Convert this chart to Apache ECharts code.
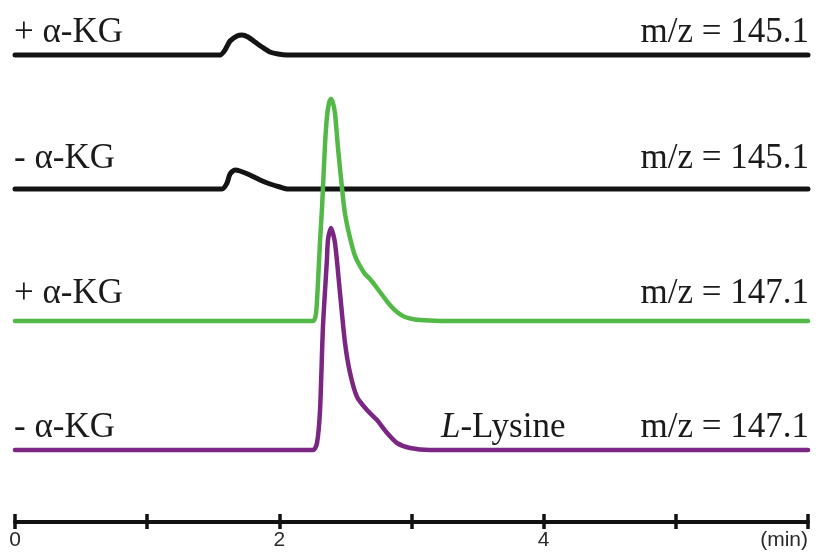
<!DOCTYPE html>
<html>
<head>
<meta charset="utf-8">
<script src="https://cdn.jsdelivr.net/npm/echarts@6/dist/echarts.min.js"></script>
<style>html,body{margin:0;padding:0;background:#fff}#c{width:818px;height:556px}</style>
</head>
<body>
<div id="c"></div>
<script>
// Time axis (min)
var xTicks = [0, 1, 2, 3, 4, 5, 6];
var xLabels = {0: '0', 2: '2', 4: '4', 6: '(min)'};

// Trace labels
var leftLabels = ['+ α-KG', '- α-KG', '+ α-KG', '- α-KG'];
var rightLabels = ['m/z = 145.1', 'm/z = 145.1', 'm/z = 147.1', 'm/z = 147.1'];

// Signal traces: [time (min), intensity above own baseline]
var blackPlus145 = [[0,0],[1.551,0],[1.589,5],[1.627,14],[1.680,19],[1.717,20],[1.763,18],[1.816,13],[1.869,8],[1.929,3],[1.990,1],[2.058,0],[6,0]];
var blackMinus145 = [[0,0],[1.566,0],[1.604,6],[1.627,15],[1.665,19],[1.702,18],[1.778,14],[1.854,9],[1.929,5],[2.005,2],[2.066,0],[6,0]];
var greenPlus147 = [[0,0],[2.255,0],[2.277,7],[2.293,40],[2.308,80],[2.323,113],[2.345,175],[2.361,205],[2.376,218],[2.391,222],[2.406,218],[2.421,208],[2.444,173],[2.474,133],[2.497,107],[2.535,83],[2.573,65],[2.61,55],[2.648,47],[2.686,42],[2.739,33],[2.784,25],[2.837,16],[2.89,9],[2.951,4],[3.026,1.5],[3.14,0.5],[3.29,0],[6,0]];
var purpleMinus147 = [[0,0],[2.255,0],[2.285,7],[2.308,40],[2.33,123],[2.36,190],[2.368,210],[2.391,222],[2.421,207],[2.459,157],[2.497,107],[2.535,77],[2.588,53],[2.663,40],[2.739,30],[2.815,17],[2.89,7],[2.989,2],[3.14,0],[6,0]];

// Vertical stacking offsets of each trace
var baselines = [467, 333, 201, 72];

var traces = [blackPlus145, blackMinus145, greenPlus147, purpleMinus147];
var colors = ['#141414', '#141414', '#52b947', '#7a2682'];
var widths = [5, 5, 4.5, 4.5];

function shift(arr, off) { return arr.map(function (p) { return [p[0], p[1] + off]; }); }

var chart = echarts.init(document.getElementById('c'));
var textY = [33, 159, 294, 428];
var FONT = '35px "Liberation Serif"';
var graphics = [];
for (var i = 0; i < 4; i++) {
  graphics.push({type: 'text', left: 14, top: textY[i] - 18, style: {text: leftLabels[i], font: FONT, fill: '#1a1a1a'}});
  graphics.push({type: 'text', right: 9, top: textY[i] - 18, style: {text: rightLabels[i], font: FONT, fill: '#1a1a1a'}});
}
graphics.push({type: 'text', left: 441, top: textY[3] - 18, style: {
  text: '{i|L}-Lysine', font: FONT, fill: '#1a1a1a',
  rich: {i: {fontStyle: 'italic', fontFamily: 'Liberation Serif', fontSize: 35, fill: '#1a1a1a'}}
}});

var axisCommon = {type: 'value', min: 0, max: 6, interval: 1, splitLine: {show: false}};
chart.setOption({
  animation: false,
  grid: [
    {left: 15, right: 10, top: 0, bottom: 34},
    {left: 15, right: 10, top: 0, bottom: 34}
  ],
  xAxis: [
    Object.assign({}, axisCommon, {
      gridIndex: 0,
      axisLine: {lineStyle: {color: '#111', width: 4}},
      axisTick: {show: true, inside: true, length: 8, lineStyle: {color: '#111', width: 3.5}},
      axisLabel: {
        formatter: function (v) { return xLabels[v] !== undefined ? xLabels[v] : ''; },
        alignMaxLabel: 'right', fontFamily: '"Liberation Sans Narrow", "Liberation Sans"', fontSize: 21, color: '#2a2a2a', margin: 8
      }
    }),
    Object.assign({}, axisCommon, {
      gridIndex: 1,
      axisLine: {show: false},
      axisTick: {show: true, inside: false, length: 7, lineStyle: {color: '#111', width: 3.5}},
      axisLabel: {show: false}
    })
  ],
  yAxis: [
    {gridIndex: 0, type: 'value', min: 0, max: 522, show: false},
    {gridIndex: 1, type: 'value', min: 0, max: 522, show: false}
  ],
  series: traces.map(function (t, i) {
    return {
      type: 'line', xAxisIndex: 0, yAxisIndex: 0, data: shift(t, baselines[i]),
      showSymbol: false, smooth: 0.25, lineStyle: {color: colors[i], width: widths[i], cap: 'round', join: 'round'}
    };
  }),
  graphic: graphics
});
</script>
</body>
</html>
